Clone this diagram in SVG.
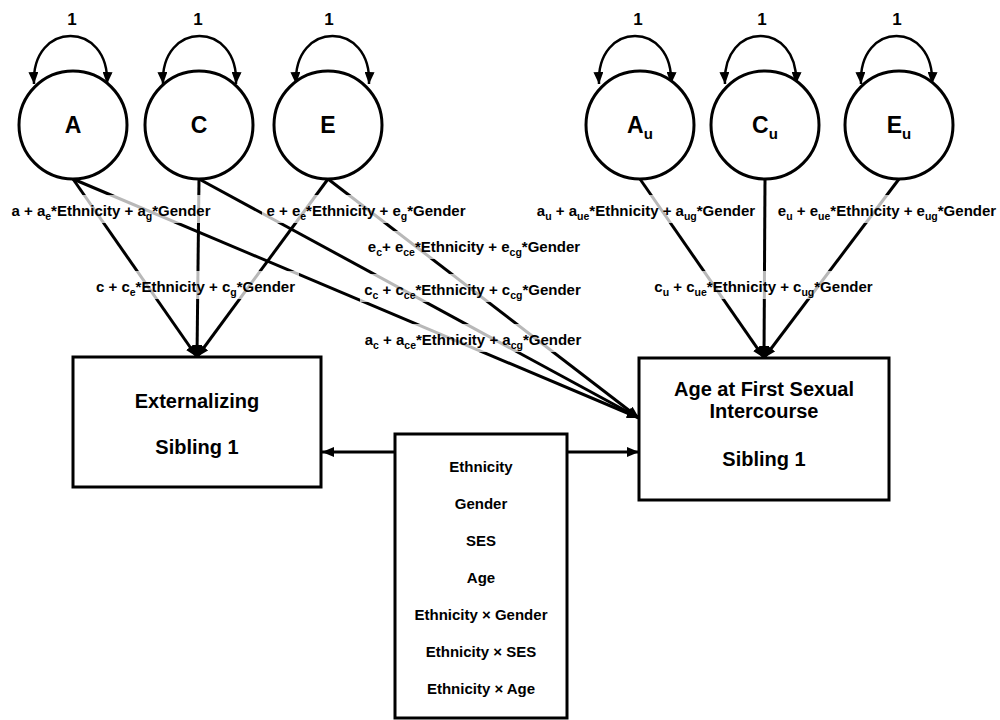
<svg xmlns="http://www.w3.org/2000/svg" width="1000" height="720" viewBox="0 0 1000 720">
<defs>
<style>
text{font-family:"Liberation Sans",Arial,sans-serif;font-weight:bold;fill:#000}
.node{fill:#fff;stroke:#000;stroke-width:3}
.con{stroke:#000;stroke-width:3;fill:none}
.loop{stroke:#000;stroke-width:2.5;fill:none}
.big{font-size:23px}
.bsub{font-size:15px}
.one{font-size:17px}
.box{font-size:20px}
.cov{font-size:15px}
.lbl{font-size:15px}
.s{font-size:10.5px}
.bg{fill:#fff;fill-opacity:0.72}
</style>
<marker id="ah" viewBox="0 0 12 10" refX="12" refY="5" markerWidth="12" markerHeight="10" markerUnits="userSpaceOnUse" orient="auto-start-reverse">
<path d="M0,0 L12,5 L0,10 z" fill="#000"/>
</marker>
</defs>
<rect width="1000" height="720" fill="#fff"/>

<g id="connectors">
<line class="con" x1="73" y1="179" x2="197" y2="357" marker-end="url(#ah)"/>
<line class="con" x1="199" y1="179" x2="197" y2="357" marker-end="url(#ah)"/>
<line class="con" x1="328" y1="179" x2="197" y2="357" marker-end="url(#ah)"/>
<line class="con" x1="73" y1="179" x2="639" y2="418" marker-end="url(#ah)"/>
<line class="con" x1="199" y1="179" x2="639" y2="418" marker-end="url(#ah)"/>
<line class="con" x1="328" y1="179" x2="639" y2="418" marker-end="url(#ah)"/>
<line class="con" x1="640" y1="179" x2="764" y2="358" marker-end="url(#ah)"/>
<line class="con" x1="765" y1="179" x2="764" y2="358" marker-end="url(#ah)"/>
<line class="con" x1="899" y1="179" x2="764" y2="358" marker-end="url(#ah)"/>
<line class="con" x1="395" y1="452" x2="322" y2="452" marker-end="url(#ah)"/>
<line class="con" x1="567" y1="452" x2="639" y2="452" marker-end="url(#ah)"/>
<path class="loop" d="M34,84 C31,20 110,20 107,84" marker-start="url(#ah)" marker-end="url(#ah)"/>
<path class="loop" d="M163,84 C160,20 239,20 236,84" marker-start="url(#ah)" marker-end="url(#ah)"/>
<path class="loop" d="M296,84 C293,20 372,20 369,84" marker-start="url(#ah)" marker-end="url(#ah)"/>
<path class="loop" d="M599,84 C596,20 674,20 671,84" marker-start="url(#ah)" marker-end="url(#ah)"/>
<path class="loop" d="M725,84 C722,20 799,20 796,84" marker-start="url(#ah)" marker-end="url(#ah)"/>
<path class="loop" d="M861,84 C858,20 935,20 932,84" marker-start="url(#ah)" marker-end="url(#ah)"/>
<text class="one" x="72" y="25" text-anchor="middle">1</text>
<text class="one" x="198" y="25" text-anchor="middle">1</text>
<text class="one" x="329" y="25" text-anchor="middle">1</text>
<text class="one" x="638" y="25" text-anchor="middle">1</text>
<text class="one" x="762" y="25" text-anchor="middle">1</text>
<text class="one" x="897" y="25" text-anchor="middle">1</text>

<rect class="bg" x="7" y="195" width="208" height="28"/>
<rect class="bg" x="92" y="271" width="207" height="28"/>
<rect class="bg" x="262" y="195" width="208" height="28"/>
<rect class="bg" x="363" y="231" width="222" height="28"/>
<rect class="bg" x="360" y="274" width="225" height="28"/>
<rect class="bg" x="360" y="324" width="226" height="28"/>
<rect class="bg" x="532" y="195" width="228" height="28"/>
<rect class="bg" x="774" y="195" width="226" height="28"/>
<rect class="bg" x="650" y="271" width="227" height="28"/>

<text class="lbl" x="111" y="216" text-anchor="middle">a + a<tspan class="s" dy="4">e</tspan><tspan dy="-4">*Ethnicity + a</tspan><tspan class="s" dy="4">g</tspan><tspan dy="-4">*Gender</tspan></text>
<text class="lbl" x="195.5" y="292" text-anchor="middle">c + c<tspan class="s" dy="4">e</tspan><tspan dy="-4">*Ethnicity + c</tspan><tspan class="s" dy="4">g</tspan><tspan dy="-4">*Gender</tspan></text>
<text class="lbl" x="366" y="216" text-anchor="middle">e + e<tspan class="s" dy="4">e</tspan><tspan dy="-4">*Ethnicity + e</tspan><tspan class="s" dy="4">g</tspan><tspan dy="-4">*Gender</tspan></text>
<text class="lbl" x="474" y="252" text-anchor="middle">e<tspan class="s" dy="4">c</tspan><tspan dy="-4">+ e</tspan><tspan class="s" dy="4">ce</tspan><tspan dy="-4">*Ethnicity + e</tspan><tspan class="s" dy="4">cg</tspan><tspan dy="-4">*Gender</tspan></text>
<text class="lbl" x="472.5" y="295" text-anchor="middle">c<tspan class="s" dy="4">c</tspan><tspan dy="-4"> + c</tspan><tspan class="s" dy="4">ce</tspan><tspan dy="-4">*Ethnicity + c</tspan><tspan class="s" dy="4">cg</tspan><tspan dy="-4">*Gender</tspan></text>
<text class="lbl" x="473" y="345" text-anchor="middle">a<tspan class="s" dy="4">c</tspan><tspan dy="-4"> + a</tspan><tspan class="s" dy="4">ce</tspan><tspan dy="-4">*Ethnicity + a</tspan><tspan class="s" dy="4">cg</tspan><tspan dy="-4">*Gender</tspan></text>
<text class="lbl" x="646" y="216" text-anchor="middle">a<tspan class="s" dy="4">u</tspan><tspan dy="-4"> + a</tspan><tspan class="s" dy="4">ue</tspan><tspan dy="-4">*Ethnicity + a</tspan><tspan class="s" dy="4">ug</tspan><tspan dy="-4">*Gender</tspan></text>
<text class="lbl" x="887" y="216" text-anchor="middle">e<tspan class="s" dy="4">u</tspan><tspan dy="-4"> + e</tspan><tspan class="s" dy="4">ue</tspan><tspan dy="-4">*Ethnicity + e</tspan><tspan class="s" dy="4">ug</tspan><tspan dy="-4">*Gender</tspan></text>
<text class="lbl" x="763.5" y="292" text-anchor="middle">c<tspan class="s" dy="4">u</tspan><tspan dy="-4"> + c</tspan><tspan class="s" dy="4">ue</tspan><tspan dy="-4">*Ethnicity + c</tspan><tspan class="s" dy="4">ug</tspan><tspan dy="-4">*Gender</tspan></text>
</g>

<g id="A"><circle class="node" cx="73" cy="125" r="54"/><text class="big" x="73" y="133" text-anchor="middle">A</text></g>
<g id="C"><circle class="node" cx="199" cy="125" r="54"/><text class="big" x="199" y="133" text-anchor="middle">C</text></g>
<g id="E"><circle class="node" cx="328" cy="125" r="54"/><text class="big" x="328" y="133" text-anchor="middle">E</text></g>
<g id="Au"><circle class="node" cx="640" cy="125" r="54"/><text class="big" x="640" y="133" text-anchor="middle">A<tspan class="bsub" dy="6">u</tspan></text></g>
<g id="Cu"><circle class="node" cx="765" cy="125" r="54"/><text class="big" x="765" y="133" text-anchor="middle">C<tspan class="bsub" dy="6">u</tspan></text></g>
<g id="Eu"><circle class="node" cx="899" cy="125" r="54"/><text class="big" x="899" y="133" text-anchor="middle">E<tspan class="bsub" dy="6">u</tspan></text></g>

<g id="externalizing">
<rect class="node" x="73" y="357" width="248" height="130"/>
<text class="box" x="197" y="408" text-anchor="middle">Externalizing</text>
<text class="box" x="197" y="454" text-anchor="middle">Sibling 1</text>
</g>
<g id="age-first-sex">
<rect class="node" x="639" y="358" width="250" height="142"/>
<text class="box" x="764" y="396" text-anchor="middle">Age at First Sexual</text>
<text class="box" x="764" y="418" text-anchor="middle">Intercourse</text>
<text class="box" x="764" y="466" text-anchor="middle">Sibling 1</text>
</g>
<g id="covariates">
<rect class="node" x="395" y="434" width="172" height="284"/>
<text class="cov" x="481" y="472" text-anchor="middle">Ethnicity</text>
<text class="cov" x="481" y="509" text-anchor="middle">Gender</text>
<text class="cov" x="481" y="546" text-anchor="middle">SES</text>
<text class="cov" x="481" y="583" text-anchor="middle">Age</text>
<text class="cov" x="481" y="620" text-anchor="middle">Ethnicity × Gender</text>
<text class="cov" x="481" y="657" text-anchor="middle">Ethnicity × SES</text>
<text class="cov" x="481" y="694" text-anchor="middle">Ethnicity × Age</text>
</g>
</svg>
